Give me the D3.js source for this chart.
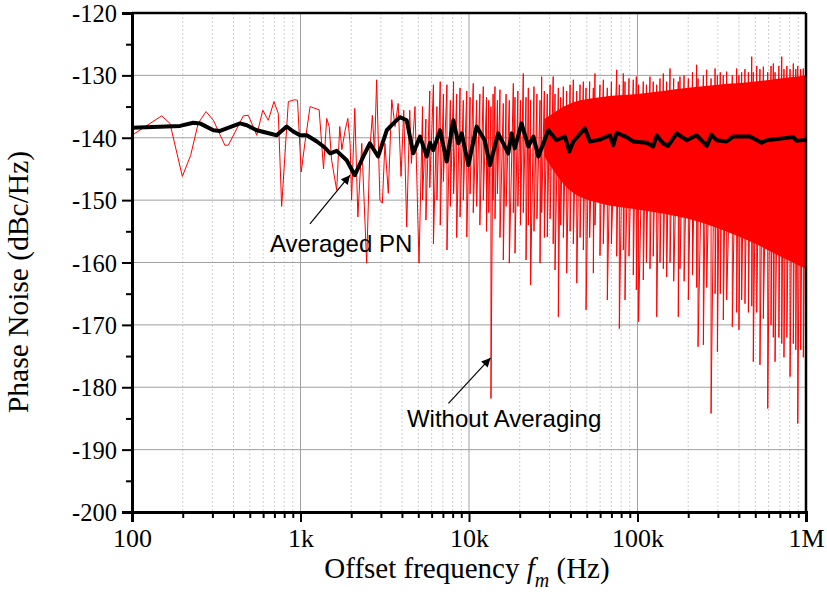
<!DOCTYPE html>
<html>
<head>
<meta charset="utf-8">
<script src="https://cdn.jsdelivr.net/npm/d3@7"></script>
<style>
  html, body { margin: 0; padding: 0; background: #fff; }
  svg { display: block; }
</style>
</head>
<body>
<svg id="chart" width="827" height="611"></svg>
<script>
// ---------------- data ----------------
// x axis ticks
const xTickValues = [100, 1000, 10000, 100000, 1000000];
const xTickLabels = ["100", "1k", "10k", "100k", "1M"];
const xMinorMultipliers = [2, 3, 4, 5, 6, 7, 8, 9];
// y axis ticks
const yTickValues = [-120, -130, -140, -150, -160, -170, -180, -190, -200];
const yMinorValues = [-125, -135, -145, -155, -165, -175, -185, -195];

// Without averaging: sparse low-frequency part (Hz, dBc/Hz)
const rawSparseFreq = [100, 150, 168, 199, 223, 247, 275, 304, 356, 373, 458, 490, 550, 597, 644, 696, 738, 773, 847, 927, 960,
  1010, 1060, 1140, 1220, 1290, 1370, 1430, 1480, 1530, 1640, 1710, 1760, 1840, 1910, 1970, 2010, 2100, 2190, 2310, 2470,
  2580, 2670, 2750, 2830, 2960, 3060, 3170, 3320, 3480, 3640, 3800, 3950, 4100, 4270, 4450, 4550, 4780, 5050];
const rawSparseVal = [-139.6, -136.5, -137.7, -146.2, -142.8, -137.7, -135.8, -137.2, -141.2, -141.2, -136.5, -136.4, -139.6, -135.6, -137.2, -134.2, -136.1, -151.0, -134.2, -133.9, -134.0,
  -145.5, -141.0, -135.0, -135.3, -135.5, -145.0, -136.9, -138.2, -143.6, -148.4, -138.2, -141.9, -138.8, -136.9, -140.9, -150.0, -135.3, -152.7, -140.9, -160.1,
  -141.9, -136.4, -142.5, -130.7, -150.0, -150.5, -140.9, -148.9, -133.9, -138.2, -134.5, -146.2, -135.6, -154.3, -135.6, -144.1, -135.0, -160.1];

// Without averaging: dense part, per bin the upper and lower excursion (Hz, dBc/Hz)
const rawDenseFreq = [5300, 5550, 5850, 6150, 6450, 6750, 7050, 7400, 7750, 8100, 8450, 8850, 9250, 9700, 10150, 10600, 11100, 11600, 12160, 12700,
  13100, 13500, 13900, 14260, 14750, 15270, 15980, 16600, 17350, 18330, 18750, 19500, 20200, 21000, 21800, 22500, 23200, 24300, 25300, 26400,
  27000, 28000, 29150, 30300, 31600, 32400, 33900, 35000, 36300, 38000, 39800, 41600, 43600, 45600, 47700, 49500, 52000, 54700, 55900, 59900,
  62700, 66200, 70000, 75300, 78000, 82400, 84300, 89000, 94400, 98400, 101500, 108200, 113000, 118600, 124000, 130000, 136000, 142300, 149000, 156000,
  164000, 174600, 178700, 189000, 200300, 212000, 224500, 228700, 246000, 257400, 273300, 288700, 297900, 310000, 323000, 338300, 365300, 387900, 400000, 415000,
  434300, 455000, 476400, 486600, 510000, 533000, 558300, 592700, 620000, 639800, 655100, 690000, 717900, 740000, 770000, 804200, 840800, 870000, 893400, 930000,
  964100, 1000000];
const rawDenseHigh = [-135.0, -137.0, -132.5, -131.5, -135.0, -131.0, -133.0, -131.5, -134.0, -131.0, -133.0, -132.0, -134.0, -132.5, -133.5, -131.3, -134.0, -133.0, -131.8, -133.5,
  -134.0, -135.0, -133.0, -131.8, -134.0, -132.3, -134.5, -133.0, -134.0, -131.3, -133.5, -132.5, -134.0, -129.7, -133.5, -132.0, -134.0, -131.8, -133.0, -134.0,
  -130.2, -132.5, -133.0, -131.5, -130.2, -133.0, -132.0, -133.5, -131.8, -132.5, -131.5, -130.7, -132.5, -131.5, -131.0, -132.0, -131.0, -132.0, -129.7, -131.5,
  -130.7, -132.0, -131.0, -129.1, -131.5, -129.7, -131.0, -130.5, -130.7, -130.2, -131.5, -131.0, -131.5, -130.2, -131.0, -131.5, -130.5, -129.7, -131.0, -128.9,
  -130.5, -131.0, -130.2, -130.0, -130.5, -129.5, -128.3, -130.5, -130.0, -129.1, -130.5, -128.9, -130.0, -129.5, -130.0, -129.4, -130.0, -128.9, -130.0, -129.5,
  -129.0, -129.5, -127.0, -129.5, -128.5, -129.0, -128.6, -129.5, -128.5, -128.1, -129.5, -128.5, -127.0, -129.0, -128.5, -129.0, -128.1, -129.0, -128.5, -129.0,
  -128.9, -128.5];
const rawDenseLow = [-150.0, -153.2, -148.0, -157.0, -150.0, -154.0, -147.0, -158.0, -151.0, -149.0, -156.0, -152.7, -150.0, -155.9, -149.0, -152.0, -151.0, -154.0, -150.0, -155.0,
  -152.0, -181.8, -150.0, -153.0, -149.0, -156.0, -159.6, -151.0, -160.1, -152.0, -158.5, -151.0, -154.0, -152.0, -159.6, -154.0, -163.6, -155.0, -153.0, -160.1,
  -152.0, -156.0, -155.9, -153.0, -157.0, -161.2, -168.7, -154.0, -156.0, -161.7, -155.0, -157.0, -163.3, -156.0, -158.0, -167.6, -156.0, -161.7, -154.0, -158.9,
  -157.0, -166.0, -157.0, -159.0, -170.6, -158.0, -166.0, -159.0, -162.0, -164.4, -169.5, -162.8, -160.0, -161.0, -159.0, -168.7, -160.0, -161.0, -162.3, -160.0,
  -163.0, -168.7, -161.0, -163.0, -166.0, -162.0, -164.0, -173.5, -173.2, -164.0, -184.2, -165.0, -174.3, -165.0, -169.2, -166.0, -170.3, -168.0, -170.8, -166.0,
  -166.6, -168.0, -167.0, -175.9, -168.0, -176.4, -169.0, -183.4, -170.0, -172.0, -175.9, -172.0, -173.0, -175.2, -172.0, -178.3, -173.0, -174.0, -185.8, -174.0,
  -175.2, -168.0];

// solid core of the dense noise (Hz, upper, lower)
const coreFreq = [28000, 40000, 60000, 100000, 200000, 300000, 500000, 700000, 1000000];
const coreTop  = [-137.0, -134.5, -133.5, -133.0, -132.0, -131.5, -131.0, -130.5, -130.0];
const coreBot  = [-143.0, -148.5, -150.5, -151.5, -153.0, -154.5, -157.0, -159.0, -161.0];

// Averaged PN (Hz, dBc/Hz)
const avgFreq = [100, 193, 231, 253, 304, 333, 438, 480, 550, 630, 722, 828, 906, 993, 1090, 1250, 1370, 1500, 1640, 1880,
  2100, 2360, 2580, 2890, 3250, 3560, 3890, 4270, 4670, 5120, 5610, 5870, 6140, 6730, 7380, 8070, 8650, 9060, 9910, 11100,
  12400, 13300, 14900, 17100, 17900, 18700, 20500, 22500, 24100, 25800, 29600, 33100, 37100, 39400, 41600, 48800, 52200, 59800, 68700, 71800,
  75300, 86300, 94400, 113500, 124000, 130000, 142000, 152000, 171000, 196000, 224000, 258000, 275000, 295000, 338000, 370000, 465000, 546000, 584000, 841000,
  881000, 1000000];
const avgVal = [-138.4, -138.1, -137.6, -137.7, -138.8, -138.9, -137.7, -138.0, -138.8, -139.2, -139.6, -138.2, -139.0, -139.6, -139.6, -140.6, -141.4, -142.5, -142.1, -143.6,
  -146.0, -143.0, -140.9, -143.0, -138.8, -137.7, -136.7, -137.2, -142.5, -139.8, -143.0, -140.8, -142.0, -138.8, -143.8, -137.2, -140.9, -139.3, -144.4, -138.2,
  -140.4, -144.4, -139.3, -142.5, -139.3, -141.7, -137.7, -141.4, -139.8, -143.0, -138.8, -140.4, -139.8, -142.2, -140.6, -138.5, -140.6, -140.3, -139.6, -141.2,
  -139.2, -139.9, -140.6, -140.8, -141.4, -139.6, -140.9, -141.3, -139.3, -140.4, -139.6, -141.3, -139.5, -140.4, -140.6, -139.8, -139.8, -140.8, -140.4, -139.9,
  -140.5, -140.3];

// annotations (text anchor and arrow tail/tip in data units)
const annotations = [
  { text: "Averaged PN",       textF: 659,  textV: -158.3, tailF: 1138, tailV: -153.8, tipF: 1967,  tipV: -146.0 },
  { text: "Without Averaging", textF: 4285, textV: -186.4, tailF: 7553, tailV: -182.6, tipF: 13420, tipV: -175.3 }
];

// ---------------- layout ----------------
const W = 827, H = 611;
const m = { left: 132, top: 13, right: 806, bottom: 512 };
const svg = d3.select("#chart");

const x = d3.scaleLog().domain([100, 1000000]).range([m.left, m.right]);
const y = d3.scaleLinear().domain([-200, -120]).range([m.bottom, m.top]);

svg.append("defs").append("clipPath").attr("id", "plotclip")
  .append("rect").attr("x", m.left).attr("y", m.top)
  .attr("width", m.right - m.left).attr("height", m.bottom - m.top);
svg.select("defs").append("marker")
  .attr("id", "arrowhead").attr("viewBox", "0 0 10 10")
  .attr("refX", 10).attr("refY", 5)
  .attr("markerWidth", 13).attr("markerHeight", 9).attr("markerUnits", "userSpaceOnUse")
  .attr("orient", "auto")
  .append("path").attr("d", "M0,0 L10,5 L0,10 Z").attr("fill", "#000");

// minor vertical grid (dotted)
const xMinor = [];
[100, 1000, 10000, 100000].forEach(d => xMinorMultipliers.forEach(k => xMinor.push(d * k)));
svg.append("g").selectAll("line").data(xMinor).join("line")
  .attr("x1", d => x(d)).attr("x2", d => x(d))
  .attr("y1", m.top).attr("y2", m.bottom)
  .attr("stroke", "#cfcfcf").attr("stroke-width", 1).attr("stroke-dasharray", "2,2");

// major grid
svg.append("g").selectAll("line").data(xTickValues.slice(1, -1)).join("line")
  .attr("x1", d => x(d)).attr("x2", d => x(d))
  .attr("y1", m.top).attr("y2", m.bottom)
  .attr("stroke", "#a0a0a0").attr("stroke-width", 1);
svg.append("g").selectAll("line").data(yTickValues.slice(1, -1)).join("line")
  .attr("x1", m.left).attr("x2", m.right)
  .attr("y1", d => y(d)).attr("y2", d => y(d))
  .attr("stroke", "#a0a0a0").attr("stroke-width", 1);

// ---------------- data marks ----------------
const plot = svg.append("g").attr("clip-path", "url(#plotclip)");

// core band
const coreData = coreFreq.map((f, i) => ({ f, t: coreTop[i], b: coreBot[i] }));
plot.append("path").datum(coreData)
  .attr("d", d3.area().curve(d3.curveMonotoneX).x(d => x(d.f)).y0(d => y(d.b)).y1(d => y(d.t)))
  .attr("fill", "#ff0000");

// noisy trace
const rawPts = rawSparseFreq.map((f, i) => ({ f, v: rawSparseVal[i] }));
rawDenseFreq.forEach((f, i) => {
  rawPts.push({ f, v: rawDenseHigh[i] });
  rawPts.push({ f, v: rawDenseLow[i] });
});
plot.append("path").datum(rawPts)
  .attr("d", d3.line().x(d => x(d.f)).y(d => y(d.v)))
  .attr("fill", "none").attr("stroke", "#ff0000").attr("stroke-width", 1)
  .attr("stroke-linejoin", "miter");

// averaged trace
const avgPts = avgFreq.map((f, i) => ({ f, v: avgVal[i] }));
plot.append("path").datum(avgPts)
  .attr("d", d3.line().x(d => x(d.f)).y(d => y(d.v)))
  .attr("fill", "none").attr("stroke", "#000").attr("stroke-width", 4)
  .attr("stroke-linejoin", "round");

// ---------------- axes ----------------
// frame top/right
svg.append("line").attr("x1", m.left).attr("x2", m.right).attr("y1", m.top).attr("y2", m.top)
  .attr("stroke", "#000").attr("stroke-width", 2.5);
svg.append("line").attr("x1", m.right).attr("x2", m.right).attr("y1", m.top).attr("y2", m.bottom)
  .attr("stroke", "#000").attr("stroke-width", 2.5);

const tickFont = "'Liberation Serif', 'Times New Roman', serif";

// y axis
const yAxis = d3.axisLeft(y).tickValues(yTickValues).tickSize(10).tickPadding(5)
  .tickFormat(d => String(d));
const gy = svg.append("g").attr("transform", `translate(${m.left},0)`).call(yAxis);
gy.select(".domain").attr("stroke-width", 3);
gy.selectAll(".tick line").attr("stroke-width", 2);
gy.selectAll(".tick text").attr("font-family", tickFont).attr("font-size", 24.5).attr("fill", "#000")
  .attr("dy", "0.35em");
const yMinorAxis = d3.axisLeft(y).tickValues(yMinorValues).tickSize(6).tickFormat("");
const gym = svg.append("g").attr("transform", `translate(${m.left},0)`).call(yMinorAxis);
gym.select(".domain").remove();
gym.selectAll(".tick line").attr("stroke-width", 2);

// x axis
const xAxis = d3.axisBottom(x).tickValues(xTickValues).tickSize(10).tickPadding(7)
  .tickFormat((d, i) => xTickLabels[i]);
const gx = svg.append("g").attr("transform", `translate(0,${m.bottom})`).call(xAxis);
gx.select(".domain").attr("stroke-width", 3);
gx.selectAll(".tick line").attr("stroke-width", 2);
gx.selectAll(".tick text").attr("font-family", tickFont).attr("font-size", 26).attr("fill", "#000");
const xMinorAxis = d3.axisBottom(x).tickValues(xMinor).tickSize(6).tickFormat("");
const gxm = svg.append("g").attr("transform", `translate(0,${m.bottom})`).call(xMinorAxis);
gxm.select(".domain").remove();
gxm.selectAll(".tick line").attr("stroke-width", 2);

// axis titles
const xt = svg.append("text").attr("x", 467).attr("y", 578)
  .attr("text-anchor", "middle").attr("font-family", tickFont).attr("font-size", 29).attr("fill", "#000");
xt.append("tspan").text("Offset frequency ");
xt.append("tspan").attr("font-style", "italic").text("f");
xt.append("tspan").attr("font-style", "italic").attr("font-size", 20).attr("dy", 9).text("m");
xt.append("tspan").attr("dy", -9).text(" (Hz)");

svg.append("text").attr("transform", "translate(28,282) rotate(-90)")
  .attr("text-anchor", "middle").attr("font-family", tickFont).attr("font-size", 29.5).attr("fill", "#000")
  .text("Phase Noise (dBc/Hz)");

// ---------------- annotations ----------------
annotations.forEach(a => {
  svg.append("line")
    .attr("x1", x(a.tailF)).attr("y1", y(a.tailV))
    .attr("x2", x(a.tipF)).attr("y2", y(a.tipV))
    .attr("stroke", "#000").attr("stroke-width", 1.2)
    .attr("marker-end", "url(#arrowhead)");
  svg.append("text").attr("x", x(a.textF)).attr("y", y(a.textV))
    .attr("font-family", "'Liberation Sans', Arial, sans-serif").attr("font-size", 24).attr("fill", "#000")
    .text(a.text);
});
</script>
</body>
</html>
